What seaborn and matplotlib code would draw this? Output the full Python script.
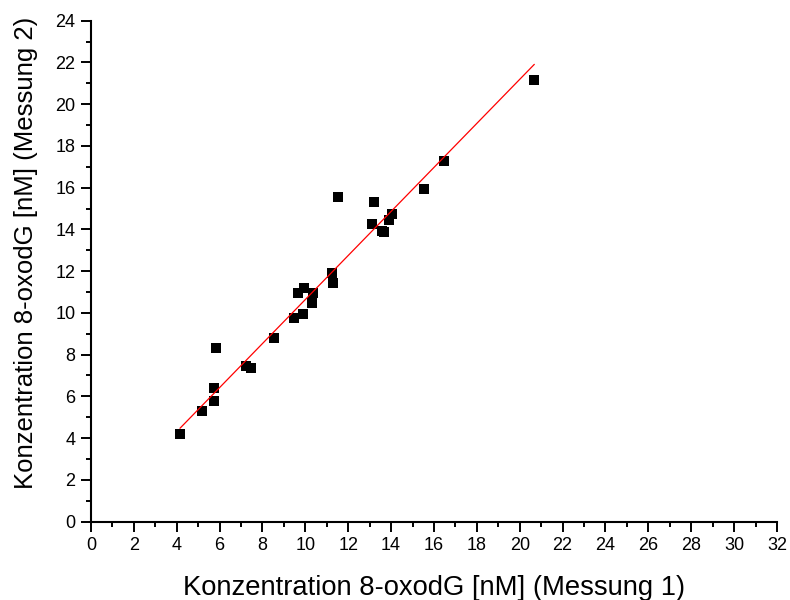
import matplotlib
matplotlib.use("Agg")
import matplotlib.pyplot as plt
import seaborn as sns
import numpy as np
import pandas as pd
from matplotlib.ticker import MultipleLocator

messung1 = [4.15, 5.19, 5.74, 5.74, 5.84, 7.25, 7.45, 8.54, 9.48, 9.67, 9.88, 9.95, 10.32,
            10.37, 11.23, 11.27, 11.54, 13.12, 13.20, 13.56, 13.68, 13.91, 14.03, 15.55,
            16.48, 20.68]
messung2 = [4.18, 5.29, 6.38, 5.79, 8.30, 7.45, 7.34, 8.81, 9.74, 10.93, 9.94, 11.17, 10.46,
            10.93, 11.89, 11.44, 15.53, 14.25, 15.32, 13.92, 13.89, 14.45, 14.72, 15.92,
            17.29, 21.16]
# linear fit as shown in the chart
fit_slope = 1.055
fit_intercept = 0.09
x_ticks = list(range(0, 33, 2))
y_ticks = list(range(0, 25, 2))
x_label = "Konzentration 8-oxodG [nM] (Messung 1)"
y_label = "Konzentration 8-oxodG [nM] (Messung 2)"

df = pd.DataFrame({"m1": messung1, "m2": messung2})
fit_x = np.array([min(messung1), max(messung1)])
fit_df = pd.DataFrame({"x": fit_x, "y": fit_slope * fit_x + fit_intercept})

sns.set_style("ticks")
plt.rcParams["font.family"] = ["Liberation Sans", "DejaVu Sans"]
plt.rcParams["text.color"] = "black"
plt.rcParams["axes.labelcolor"] = "black"

fig = plt.figure(figsize=(7.9, 6), dpi=100)
ax = fig.add_axes([0.1152, 0.1308, 0.8683, 0.8347])

sns.lineplot(data=fit_df, x="x", y="y", ax=ax, color="red", linewidth=0.9, zorder=3)
sns.scatterplot(data=df, x="m1", y="m2", ax=ax, marker="s", s=62, color="black",
                linewidth=0, zorder=2)

ax.set_xlim(0, 32)
ax.set_ylim(0, 24)
ax.set_xticks(x_ticks)
ax.set_yticks(y_ticks)
ax.xaxis.set_minor_locator(MultipleLocator(1))
ax.yaxis.set_minor_locator(MultipleLocator(1))
ax.tick_params(which="major", direction="out", length=7.2, width=1.4, labelsize=13,
               colors="black", pad=4)
ax.tick_params(which="minor", direction="out", length=3.6, width=1.4, colors="black")
for s in ["top", "right"]:
    ax.spines[s].set_visible(False)
for s in ["left", "bottom"]:
    ax.spines[s].set_linewidth(1.5)
    ax.spines[s].set_color("black")

ax.set_xlabel(x_label, fontsize=19.7, labelpad=15, color="black")
ax.set_ylabel(y_label, fontsize=18.5, color="black")
ax.yaxis.set_label_coords(-0.0766, 0.537)

fig.savefig("out.png", dpi=100)
